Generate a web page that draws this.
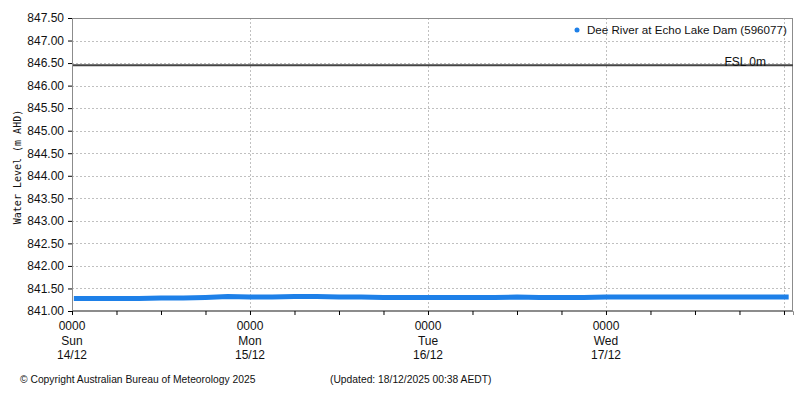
<!DOCTYPE html>
<html>
<head>
<meta charset="utf-8">
<script src="https://cdn.jsdelivr.net/npm/d3@7"></script>
<style>
  body { margin: 0; background: #fff; }
  text { font-family: 'Liberation Sans', Arial, sans-serif; }
</style>
</head>
<body>
<div id="chart"></div>
<script>
// water level readings, Dee River at Echo Lake Dam
const readingTimes = [
  '2025-12-14 00:15', '2025-12-14 03:00', '2025-12-14 06:00', '2025-12-14 09:00',
  '2025-12-14 12:00', '2025-12-14 15:00', '2025-12-14 18:00', '2025-12-14 21:00',
  '2025-12-15 00:00', '2025-12-15 03:00', '2025-12-15 06:00', '2025-12-15 09:00',
  '2025-12-15 12:00', '2025-12-15 15:00', '2025-12-15 18:00', '2025-12-15 21:00',
  '2025-12-16 00:00', '2025-12-16 03:00', '2025-12-16 06:00', '2025-12-16 09:00',
  '2025-12-16 12:00', '2025-12-16 15:00', '2025-12-16 18:00', '2025-12-16 21:00',
  '2025-12-17 00:00', '2025-12-17 03:00', '2025-12-17 06:00', '2025-12-17 09:00',
  '2025-12-17 12:00', '2025-12-17 15:00', '2025-12-17 18:00', '2025-12-17 21:00',
  '2025-12-18 00:00', '2025-12-18 00:38'
]
const levels = [
  841.28, 841.28, 841.28, 841.28, 841.29, 841.29, 841.30, 841.32,
  841.31, 841.31, 841.32, 841.32, 841.31, 841.31, 841.30, 841.30,
  841.30, 841.30, 841.30, 841.30, 841.31, 841.30, 841.30, 841.30,
  841.31, 841.31, 841.31, 841.31, 841.31, 841.31, 841.31, 841.31,
  841.31, 841.31
]
const fsl = 846.45
const yTicks = [841, 841.5, 842, 842.5, 843, 843.5, 844, 844.5, 845, 845.5, 846, 846.5, 847, 847.5]
const dayLabels = [
  { date: '2025-12-14 00:00', day: 'Sun', dm: '14/12' },
  { date: '2025-12-15 00:00', day: 'Mon', dm: '15/12' },
  { date: '2025-12-16 00:00', day: 'Tue', dm: '16/12' },
  { date: '2025-12-17 00:00', day: 'Wed', dm: '17/12' }
]
const domainStart = '2025-12-14 00:00'
const domainEnd = '2025-12-18 01:13'
const gridDays = ['2025-12-15 00:00', '2025-12-16 00:00', '2025-12-17 00:00', '2025-12-18 00:00']

const margin = { top: 18, left: 72, right: 7, bottom: 89 }
const width = 800 - margin.left - margin.right
const height = 400 - margin.top - margin.bottom

const parseTime = d3.timeParse('%Y-%m-%d %H:%M')

const svg = d3
  .select('#chart')
  .append('svg')
  .attr('width', 800)
  .attr('height', 400)

const g = svg
  .append('g')
  .attr('transform', 'translate(' + margin.left + ',' + margin.top + ')')

const xPositionScale = d3
  .scaleTime()
  .domain([parseTime(domainStart), parseTime(domainEnd)])
  .range([0, width])
const yPositionScale = d3
  .scaleLinear()
  .domain([841, 847.5])
  .range([height, 0])

const datapoints = readingTimes.map((t, i) => ({ datetime: parseTime(t), level: levels[i] }))

// horizontal grid
g.selectAll('.h-grid')
  .data(yTicks.slice(1))
  .enter()
  .append('line')
  .attr('class', 'h-grid')
  .attr('x1', 0)
  .attr('x2', width)
  .attr('y1', d => Math.round(yPositionScale(d)) + 0.5)
  .attr('y2', d => Math.round(yPositionScale(d)) + 0.5)
  .attr('stroke', '#c0c0c0')
  .attr('stroke-dasharray', '2,2')

// vertical grid at midnight
g.selectAll('.v-grid')
  .data(gridDays)
  .enter()
  .append('line')
  .attr('class', 'v-grid')
  .attr('x1', d => Math.round(xPositionScale(parseTime(d))) + 0.5)
  .attr('x2', d => Math.round(xPositionScale(parseTime(d))) + 0.5)
  .attr('y1', 0)
  .attr('y2', height)
  .attr('stroke', '#c0c0c0')
  .attr('stroke-dasharray', '2,2')

// frame
g.append('rect')
  .attr('x', 0.5)
  .attr('y', 0.5)
  .attr('width', width - 1)
  .attr('height', height - 1)
  .attr('fill', 'none')
  .attr('stroke', '#8c8c8c')

// full supply level
g.append('line')
  .attr('x1', 0)
  .attr('x2', width)
  .attr('y1', yPositionScale(fsl))
  .attr('y2', yPositionScale(fsl))
  .attr('stroke', '#444')
  .attr('stroke-width', 2)

g.append('text')
  .text('FSL 0m')
  .attr('x', width - 27)
  .attr('y', yPositionScale(fsl) + 1)
  .attr('text-anchor', 'end')
  .attr('font-size', 12)
  .attr('fill', '#111')

// water level series
const line = d3
  .line()
  .x(d => xPositionScale(d.datetime))
  .y(d => yPositionScale(d.level))

g.append('path')
  .datum(datapoints)
  .attr('d', line)
  .attr('fill', 'none')
  .attr('stroke', '#1e80e8')
  .attr('stroke-width', 5)

// y axis
const yAxis = d3
  .axisLeft(yPositionScale)
  .tickValues(yTicks)
  .tickSize(4)
  .tickFormat(d3.format('.2f'))
const yG = g.append('g').attr('class', 'axis y-axis').call(yAxis)
yG.select('.domain').attr('stroke', '#8c8c8c')
yG.selectAll('text').attr('font-size', 12).attr('fill', '#111').attr('dx', -1)

// x axis, ticks every 6 hours
const xAxis = d3
  .axisBottom(xPositionScale)
  .ticks(d3.timeHour.every(6))
  .tickSize(4)
  .tickFormat('')
const xG = g
  .append('g')
  .attr('class', 'axis x-axis')
  .attr('transform', 'translate(0,' + height + ')')
  .call(xAxis)
xG.select('.domain').attr('stroke', '#8c8c8c')

const labels = xG
  .selectAll('.day-label')
  .data(dayLabels)
  .enter()
  .append('text')
  .attr('class', 'day-label')
  .attr('text-anchor', 'middle')
  .attr('font-size', 12)
  .attr('fill', '#111')
  .attr('transform', d => 'translate(' + xPositionScale(parseTime(d.date)) + ',0)')
labels.append('tspan').attr('x', 0).attr('y', 19).text('0000')
labels.append('tspan').attr('x', 0).attr('y', 34).text(d => d.day)
labels.append('tspan').attr('x', 0).attr('y', 48).text(d => d.dm)

// axis title
svg
  .append('text')
  .text('Water Level (m AHD)')
  .attr('transform', 'translate(21,167) rotate(-90)')
  .attr('text-anchor', 'middle')
  .attr('font-size', 10)
  .style('font-family', "'DejaVu Sans Mono', monospace")
  .attr('fill', '#111')

// legend
svg
  .append('circle')
  .attr('cx', 577)
  .attr('cy', 30)
  .attr('r', 2.5)
  .attr('fill', '#1e80e8')
svg
  .append('text')
  .text('Dee River at Echo Lake Dam (596077)')
  .attr('x', 587)
  .attr('y', 34)
  .attr('font-size', 11.6)
  .attr('fill', '#111')

// footer
svg
  .append('text')
  .text('© Copyright Australian Bureau of Meteorology 2025')
  .attr('x', 20)
  .attr('y', 383)
  .attr('font-size', 10.3)
  .attr('fill', '#111')
svg
  .append('text')
  .text('(Updated: 18/12/2025 00:38 AEDT)')
  .attr('x', 330)
  .attr('y', 383)
  .attr('font-size', 10.3)
  .attr('fill', '#111')
</script>
</body>
</html>
